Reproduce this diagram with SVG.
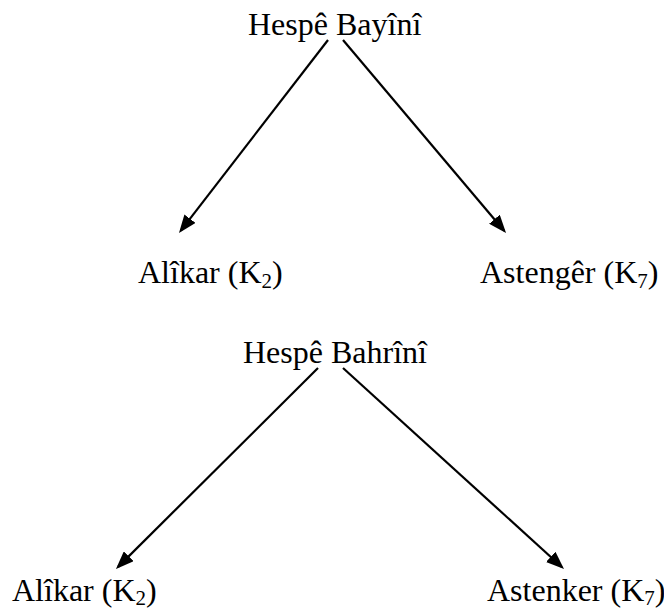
<svg xmlns="http://www.w3.org/2000/svg" width="664" height="612" viewBox="0 0 664 612">
  <style>
    .lbl { font-family: "Liberation Serif", "Times New Roman", serif; font-size: 32px; fill: #000; }
    .sub { font-size: 21px; }
    .edge { stroke: #000; stroke-width: 2.2; fill: none; marker-end: url(#head); }
  </style>
  <defs>
    <marker id="head" markerUnits="userSpaceOnUse" markerWidth="18" markerHeight="14" refX="15" refY="7" orient="auto">
      <path d="M0,0 L18,7 L0,14 z" fill="#000"/>
    </marker>
  </defs>
  <rect width="664" height="612" fill="#fff"/>

  <!-- first tree -->
  <g id="hespe-bayini"><text class="lbl" x="248" y="35">Hespê Bayînî</text></g>
  <g id="alikar-1"><text class="lbl" x="138" y="283">Alîkar (K<tspan class="sub" dy="5">2</tspan><tspan dy="-5">)</tspan></text></g>
  <g id="astenger"><text class="lbl" x="480" y="283">Astengêr (K<tspan class="sub" dy="5">7</tspan><tspan dy="-5">)</tspan></text></g>

  <!-- second tree -->
  <g id="hespe-bahrini"><text class="lbl" x="243" y="363">Hespê Bahrînî</text></g>
  <g id="alikar-2"><text class="lbl" x="12" y="601">Alîkar (K<tspan class="sub" dy="4">2</tspan><tspan dy="-4">)</tspan></text></g>
  <g id="astenker"><text class="lbl" x="487" y="601">Astenker (K<tspan class="sub" dy="4">7</tspan><tspan dy="-4">)</tspan></text></g>

  <g id="connectors">
    <line class="edge" x1="328" y1="40" x2="180.8" y2="230.6"/>
    <line class="edge" x1="343" y1="40" x2="504.1" y2="230.7"/>
    <line class="edge" x1="318" y1="368" x2="118.1" y2="566.9"/>
    <line class="edge" x1="343" y1="368" x2="561.8" y2="567"/>
  </g>
</svg>
